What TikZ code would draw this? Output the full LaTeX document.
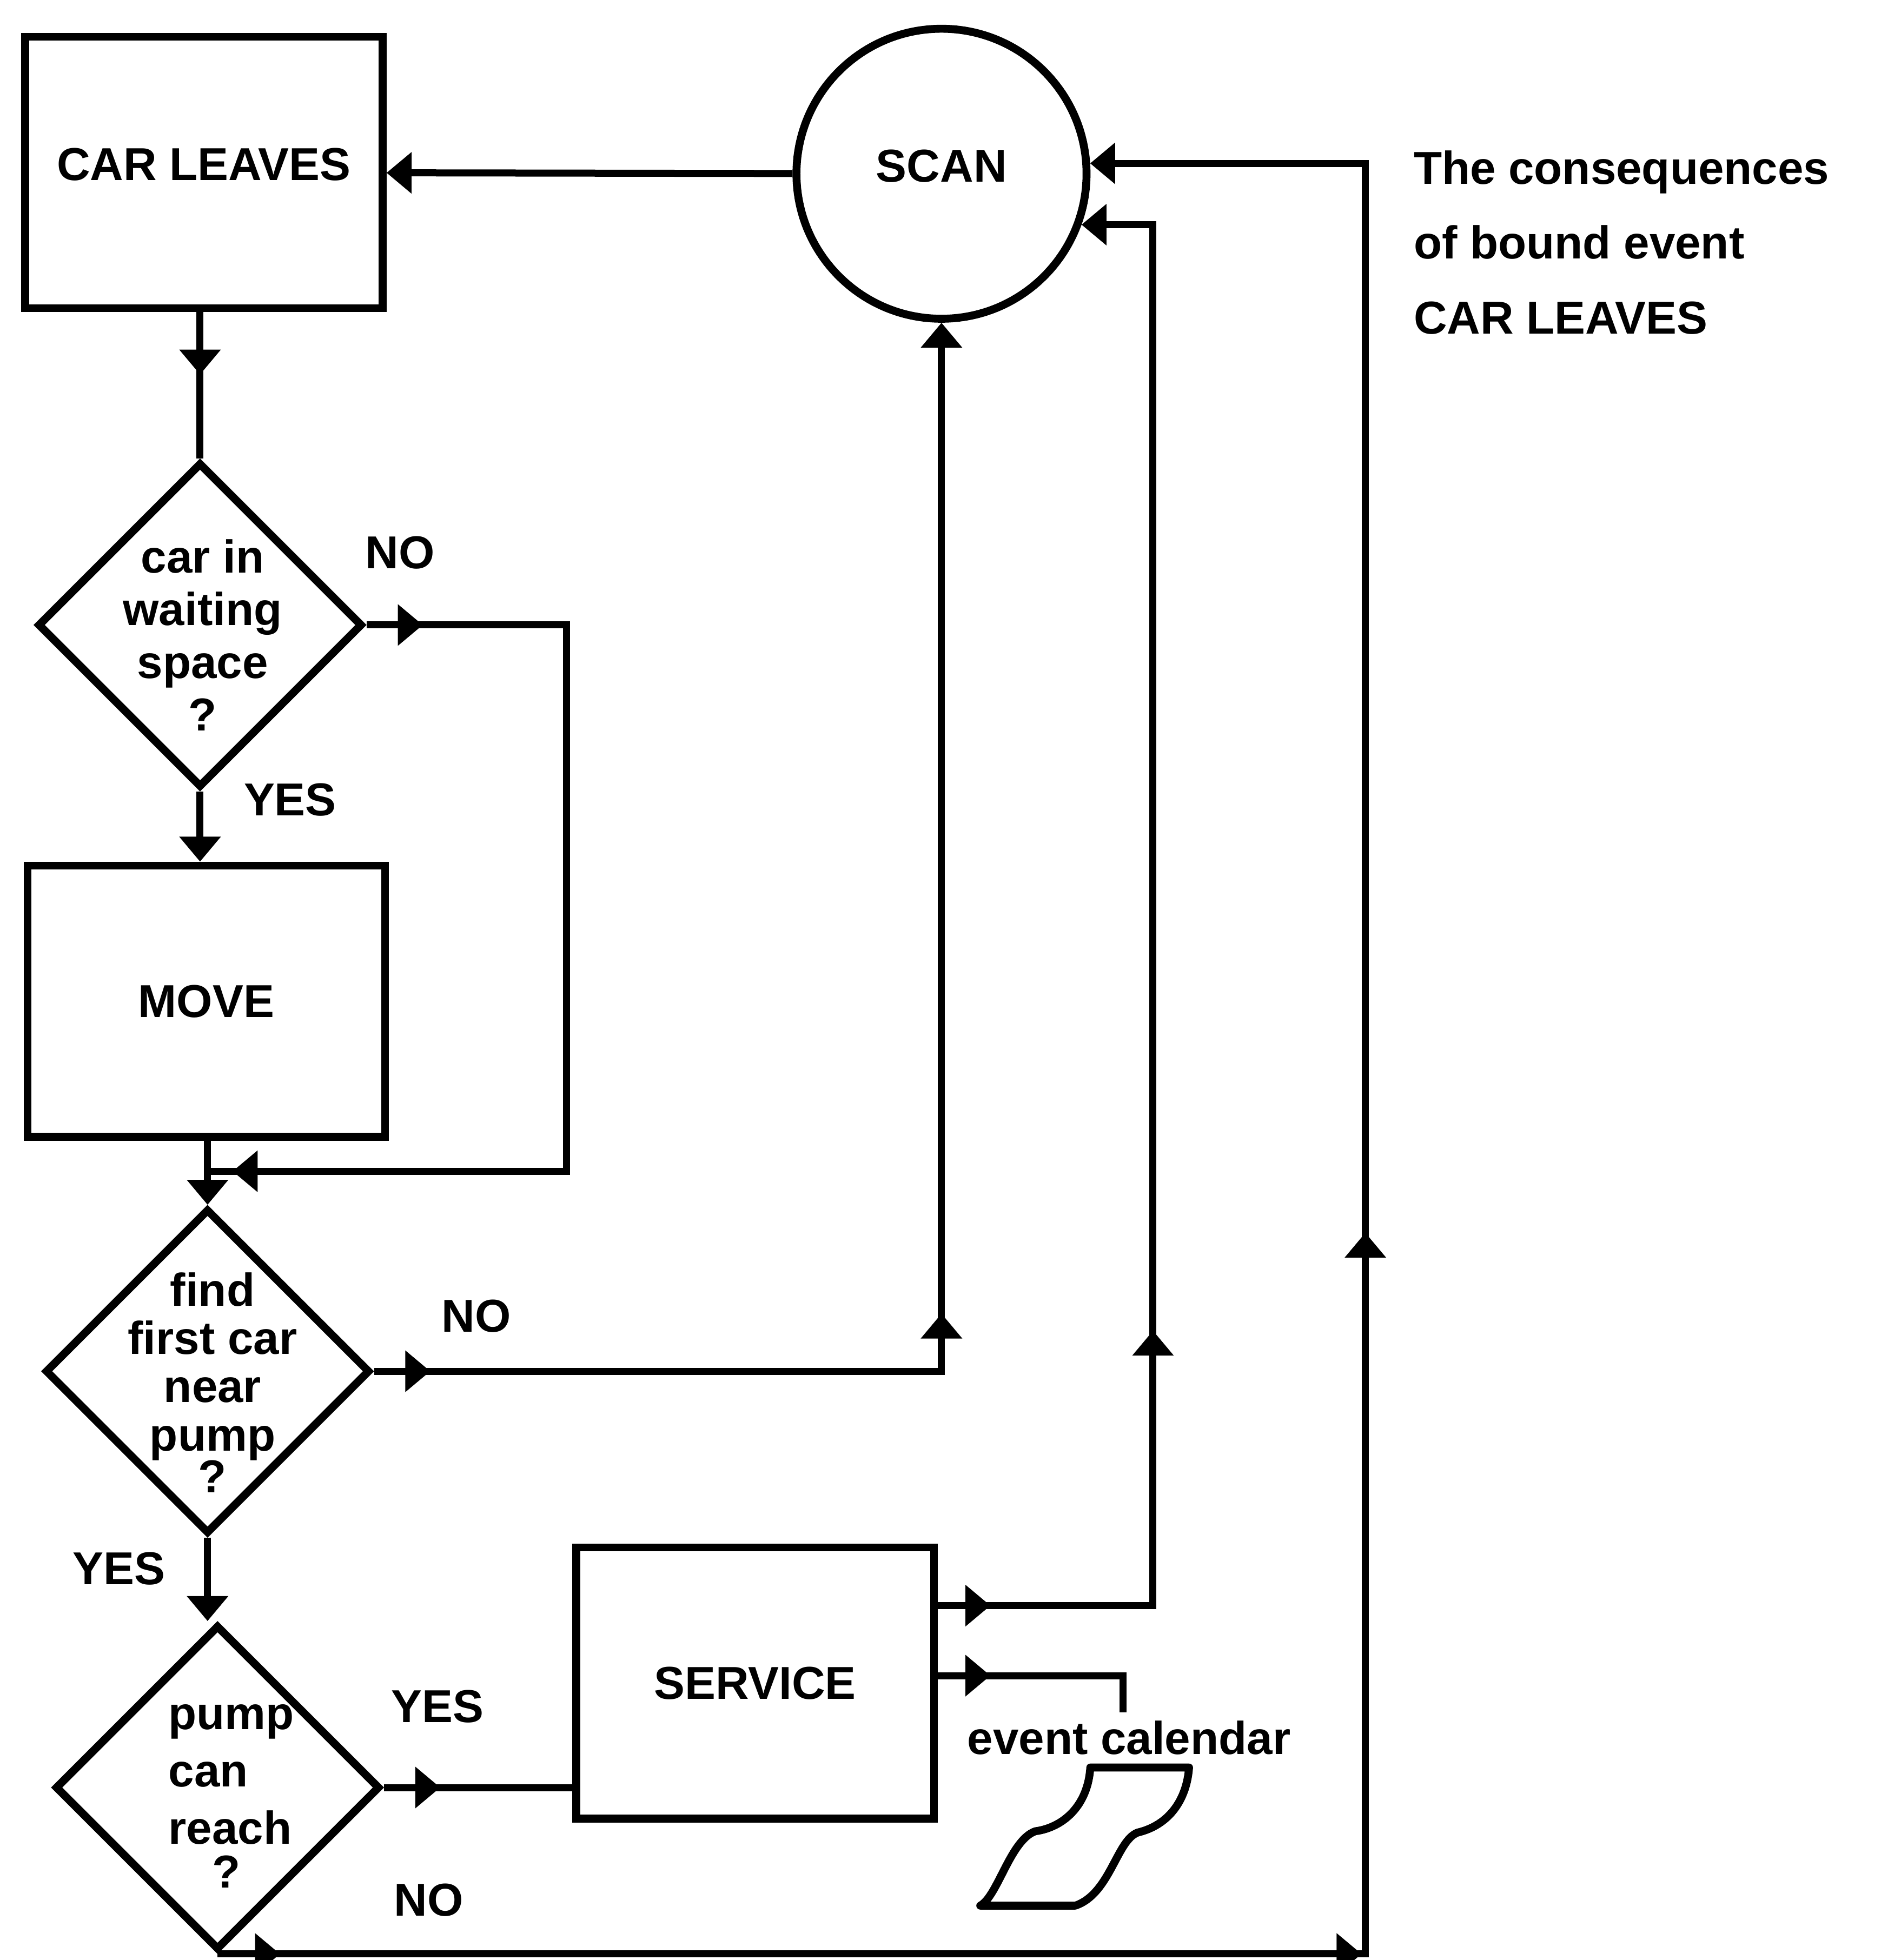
\documentclass[tikz,border=0pt]{standalone}
\usepackage{fontspec}
\setmainfont{Liberation Sans}
\usetikzlibrary{arrows.meta, shapes.geometric, decorations.markings}
\tikzset{
	procnode/.style={
			rectangle,
			draw=black,
			line width=1.8pt,
			minimum width=28.6mm,
			minimum height=21.7mm,
			inner sep=0pt,
			font=\fontsize{10.5}{12}\selectfont\bfseries
		},
	scannode/.style={
			circle,
			draw=black,
			line width=1.8pt,
			minimum size=23.2mm,
			inner sep=0pt,
			font=\fontsize{10.5}{12}\selectfont\bfseries
		},
	asknode/.style={
			diamond,
			draw=black,
			line width=1.8pt,
			minimum width=26mm,
			minimum height=26mm,
			inner sep=0pt
		},
	asktext/.style={
			align=center,
			inner sep=0pt,
			font=\fontsize{10.5}{12}\selectfont\bfseries
		},
	labeltext/.style={
			inner sep=0pt,
			font=\fontsize{10.5}{12}\selectfont\bfseries
		},
	flowline/.style={
			line width=1.6pt
		},
	tipat/.style={
			postaction={decorate, decoration={markings,
				mark=at position #1 with {\arrow{Triangle[length=2mm,width=3.2mm]}}}}
		},
	tipend/.style={
			-{Triangle[length=2mm,width=3.2mm]}
		}
}

\begin{document}
\begin{tikzpicture}
\useasboundingbox (0,0) rectangle (15.04,-15.68);

\node[procnode] (tLeaves) at (1.63,-1.38) {\raisebox{1.3mm}{CAR LEAVES}};
\node[scannode] (tScan) at (7.53,-1.39) {\raisebox{1.3mm}{SCAN}};
\node[labeltext, align=left, anchor=north west, font=\fontsize{10.5}{17}\selectfont\bfseries] (tNote) at (11.30,-1.20) {The consequences\\of bound event\\CAR LEAVES};

\node[asknode] (tWait) at (1.60,-5.00) {};
\node[asktext] (tWaitT) at (1.62,-5.08) {car in\\waiting\\space\\?};
\node[procnode] (tMove) at (1.65,-8.01) {MOVE};
\coordinate (tJoin) at (1.66,-9.37);
\node[asknode] (tFind) at (1.66,-10.97) {};
\node[asktext, font=\fontsize{10.5}{11}\selectfont\bfseries] (tFindT) at (1.70,-11.06) {find\\first car\\near\\pump\\[-1.5pt]?};
\node[asknode] (tReach) at (1.74,-14.30) {};
\node[asktext, align=left, font=\fontsize{10.5}{13}\selectfont\bfseries] (tReachT) at (1.85,-14.37) {pump\\can\\reach\\[-3pt]\hspace*{3.5mm}?};
\node[procnode] (tServ) at (6.04,-13.465) {SERVICE};
\coordinate (tCal) at (8.98,-13.70);
\node[labeltext] (tCalT) at (9.03,-13.90) {event calendar};

\node[labeltext] (tNo1) at (3.20,-4.42) {NO};
\node[labeltext] (tYes1) at (2.32,-6.40) {YES};
\node[labeltext] (tNo2) at (3.81,-10.53) {NO};
\node[labeltext] (tYes2) at (0.95,-12.55) {YES};
\node[labeltext] (tYes3) at (3.50,-13.65) {YES};
\node[labeltext] (tNo3) at (3.43,-15.20) {NO};

\draw[flowline, tipend] (tScan) -- (tLeaves);
\draw[flowline, tipat=0.5cm] (tWait.north |- tLeaves.south) -- (tWait.north);
\draw[flowline, tipend] (tWait.south) -- (tWait.south |- tMove.north);
\draw[flowline, tipat=0.45cm, tipat=-0.2cm] (tWait.east) -- ++(1.6,0) |- (tJoin);
\draw[flowline, tipend] (tFind.north |- tMove.south) -- (tFind.north);
\draw[flowline, tipend, tipat=0.45cm, tipat=5.0cm] (tFind.east) -| (tScan.south);
\draw[flowline, tipend] (tFind.south) -- (tFind.south |- tReach.north);
\draw[flowline, tipat=0.45cm] (tReach.east) -- (tReach.east -| tServ.west);
\draw[flowline, tipend, tipat=0.42cm, tipat=3.92cm] ([yshift=6.2mm]tServ.east) -- ++(1.72,0) |- (tScan.-20);
\draw[flowline, tipat=0.42cm] ([yshift=0.6mm]tServ.east) -| (tCal);
\draw[flowline, tipend, tipat=0.5cm, tipat=9.15cm, tipat=14.95cm] (tReach.south) -- ++(9.18,0) |- (tScan.4);

% event calendar scroll
\draw[line width=1.8pt, line join=round] (8.72,-14.14) -- (9.51,-14.14)
  .. controls (9.49,-14.40) and (9.35,-14.60) .. (9.10,-14.66)
  .. controls (8.93,-14.72) and (8.88,-15.15) .. (8.60,-15.245)
  -- (7.84,-15.245)
  .. controls (7.98,-15.17) and (8.08,-14.72) .. (8.28,-14.65)
  .. controls (8.50,-14.62) and (8.70,-14.45) .. (8.72,-14.14) -- cycle;

\end{tikzpicture}
\end{document}
